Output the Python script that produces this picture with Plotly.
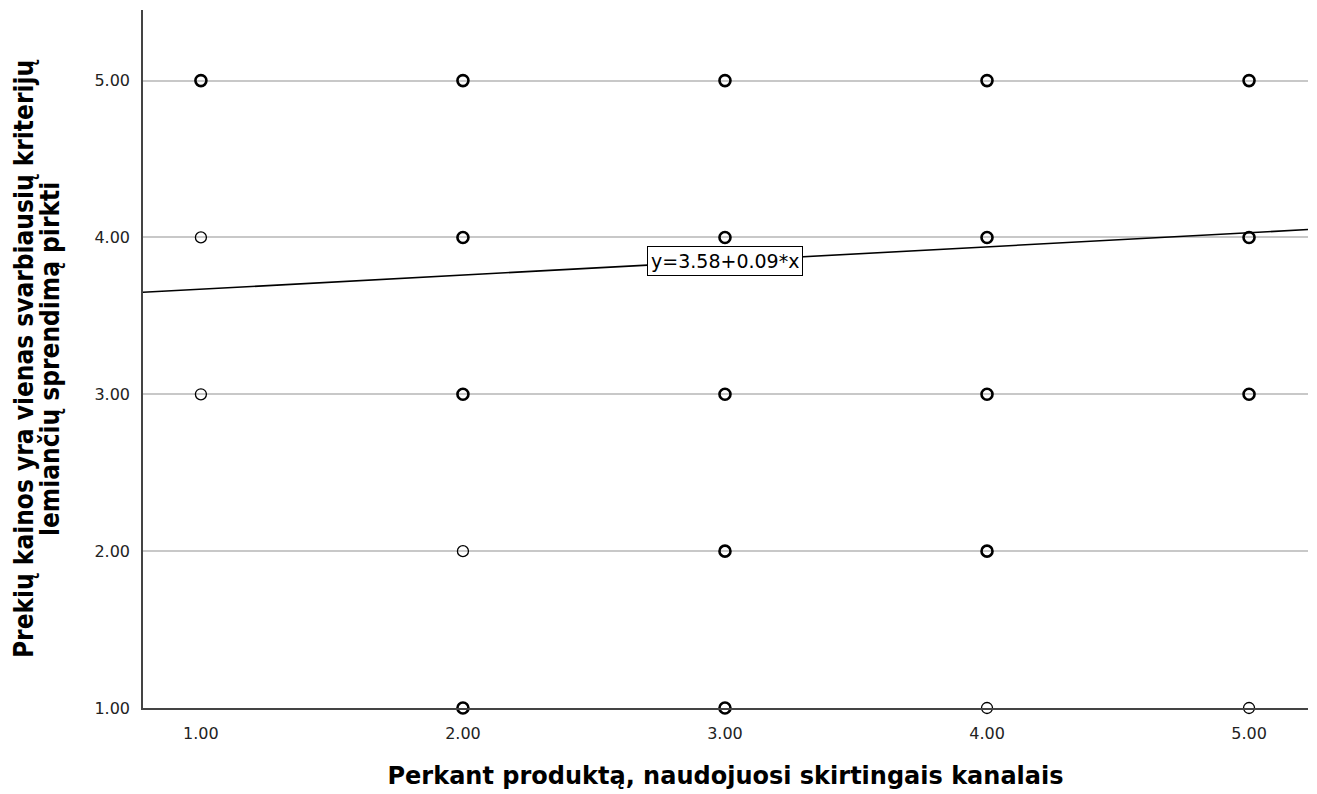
import plotly.graph_objects as go

# Observed response combinations (x = channel use, y = price importance)
x_vals = [1, 1, 1,
          2, 2, 2, 2, 2,
          3, 3, 3, 3, 3,
          4, 4, 4, 4, 4,
          5, 5, 5, 5]
y_vals = [5, 4, 3,
          5, 4, 3, 2, 1,
          5, 4, 3, 2, 1,
          5, 4, 3, 2, 1,
          5, 4, 3, 1]
# number of respondents at each combination (estimated)
counts = [2, 1, 1,
          4, 3, 3, 1, 3,
          4, 3, 3, 3, 2,
          4, 3, 3, 2, 1,
          4, 3, 2, 1]

# Linear fit coefficients
intercept = 3.58
slope = 0.09

x_range = [0.779, 5.225]
y_range = [1.0, 5.45]
tick_vals = [1, 2, 3, 4, 5]
tick_text = ["1.00", "2.00", "3.00", "4.00", "5.00"]

x_title = "Perkant produktą, naudojuosi skirtingais kanalais"
y_title_lines = ["Prekių kainos yra vienas svarbiausių kriterijų",
                 "lemiančių sprendimą pirkti"]
fit_label = f"y={intercept:.2f}+{slope:.2f}*x"

fig = go.Figure()

fig.add_trace(go.Scatter(
    x=x_vals, y=y_vals, mode="markers",
    marker=dict(symbol="circle-open", size=11, color="black",
                line=dict(width=[2.6 if c > 1 else 1.3 for c in counts], color="black")),
    cliponaxis=False, showlegend=False, hoverinfo="x+y",
))

fit_x = x_range
fit_y = [intercept + slope * v for v in fit_x]
fig.add_trace(go.Scatter(
    x=fit_x, y=fit_y, mode="lines",
    line=dict(color="black", width=1.6),
    showlegend=False, hoverinfo="skip",
))

fig.add_annotation(
    x=3.0, y=3.85, text=fit_label, showarrow=False,
    font=dict(family="DejaVu Sans", size=19, color="black"),
    bgcolor="white", bordercolor="black", borderwidth=1, borderpad=3,
)

# Two-line rotated y-axis title, drawn as separate lines for tight spacing
title_font = dict(family="DejaVu Sans Condensed", size=26, color="black", weight="bold")
for line, xpos in zip(y_title_lines, [-0.1021, -0.0798]):
    fig.add_annotation(
        xref="paper", yref="paper", x=xpos, y=0.5,
        xanchor="center", yanchor="middle",
        text=line, textangle=-90, showarrow=False, font=title_font,
    )

fig.update_xaxes(
    range=x_range, tickvals=tick_vals, ticktext=tick_text,
    showgrid=False, zeroline=False,
    showline=True, linecolor="#444444", linewidth=1.5, mirror=False,
    ticks="", ticklabelstandoff=10,
    tickfont=dict(family="DejaVu Sans", size=16, color="#222222"),
    title=dict(text=x_title, standoff=25,
               font=dict(family="DejaVu Sans", size=24, color="black", weight="bold")),
)
fig.update_yaxes(
    range=y_range, tickvals=tick_vals, ticktext=tick_text,
    showgrid=True, gridcolor="#c8c8c8", gridwidth=1.5, zeroline=False,
    showline=True, linecolor="#444444", linewidth=1.5, mirror=False,
    ticks="", ticklabelstandoff=8,
    tickfont=dict(family="DejaVu Sans", size=16, color="#222222"),
)

fig.update_layout(
    width=1317, height=794,
    margin=dict(l=143, r=9, t=10, b=86),
    paper_bgcolor="white", plot_bgcolor="white",
)

fig.write_html("out.html")
